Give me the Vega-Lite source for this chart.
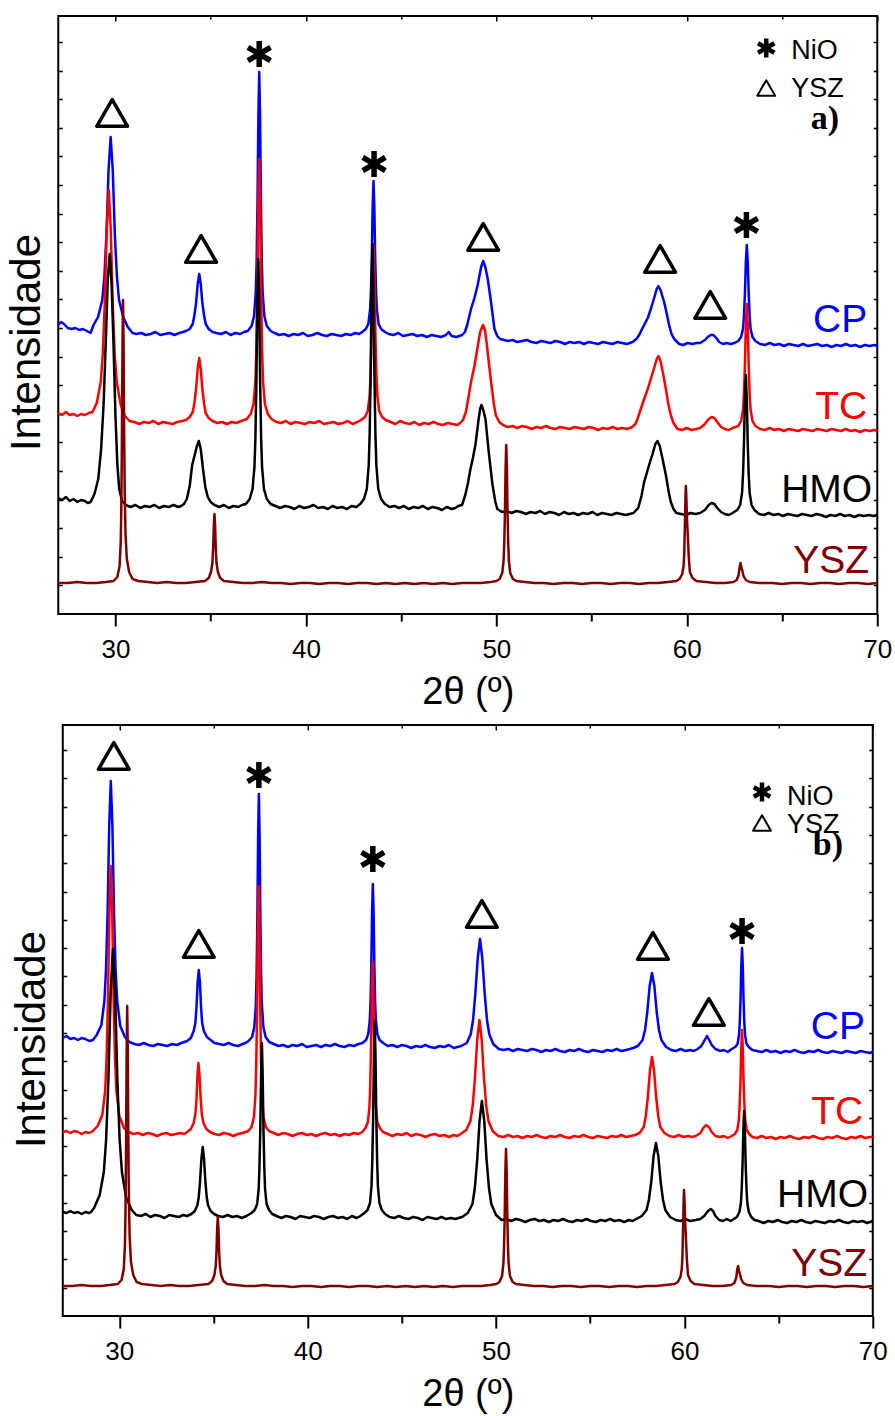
{
"$schema":"https://vega.github.io/schema/vega-lite/v6.json",
"background":"white",
"padding":{"top":14,"left":4,"right":0,"bottom":0},
"config":{"view":{"stroke":"#000","strokeWidth":2},"font":"Liberation Sans"},
"datasets":{
"aCP":[{"t":27.0,"i":289},{"t":27.15,"i":292},{"t":27.3,"i":290},{"t":27.5,"i":286},{"t":27.7,"i":285},{"t":27.9,"i":286},{"t":28.1,"i":284},{"t":28.3,"i":285},{"t":28.5,"i":283},{"t":28.7,"i":281},{"t":28.85,"i":289},{"t":29.09,"i":297},{"t":29.31,"i":314},{"t":29.42,"i":337},{"t":29.53,"i":380},{"t":29.64,"i":444},{"t":29.75,"i":477},{"t":29.86,"i":444},{"t":29.97,"i":380},{"t":30.08,"i":337},{"t":30.19,"i":314},{"t":30.41,"i":297},{"t":30.65,"i":287},{"t":30.9,"i":281},{"t":31.1,"i":280},{"t":31.35,"i":281},{"t":31.6,"i":279},{"t":31.85,"i":280},{"t":32.1,"i":282},{"t":32.35,"i":279},{"t":32.6,"i":280},{"t":32.85,"i":281},{"t":33.1,"i":279},{"t":33.35,"i":281},{"t":33.55,"i":282},{"t":33.7,"i":283},{"t":33.9,"i":285},{"t":34.06,"i":290},{"t":34.14,"i":298},{"t":34.23,"i":310},{"t":34.32,"i":330},{"t":34.4,"i":340},{"t":34.48,"i":330},{"t":34.57,"i":310},{"t":34.66,"i":298},{"t":34.74,"i":290},{"t":34.9,"i":285},{"t":35.1,"i":282},{"t":35.3,"i":281},{"t":35.55,"i":280},{"t":35.8,"i":282},{"t":36.05,"i":279},{"t":36.3,"i":281},{"t":36.55,"i":280},{"t":36.75,"i":282},{"t":36.95,"i":283},{"t":37.15,"i":288},{"t":37.28,"i":298},{"t":37.37,"i":322},{"t":37.415,"i":353},{"t":37.46,"i":411},{"t":37.505,"i":497},{"t":37.55,"i":542},{"t":37.595,"i":497},{"t":37.64,"i":411},{"t":37.685,"i":353},{"t":37.73,"i":322},{"t":37.82,"i":298},{"t":37.95,"i":288},{"t":38.15,"i":283},{"t":38.35,"i":281},{"t":38.6,"i":279},{"t":38.85,"i":280},{"t":39.1,"i":278},{"t":39.35,"i":280},{"t":39.6,"i":279},{"t":39.85,"i":281},{"t":40.1,"i":278},{"t":40.35,"i":279},{"t":40.6,"i":281},{"t":40.85,"i":279},{"t":41.1,"i":278},{"t":41.35,"i":280},{"t":41.6,"i":279},{"t":41.85,"i":278},{"t":42.1,"i":280},{"t":42.35,"i":279},{"t":42.6,"i":281},{"t":42.8,"i":280},{"t":42.95,"i":282},{"t":43.15,"i":285},{"t":43.28,"i":290},{"t":43.37,"i":304},{"t":43.415,"i":322},{"t":43.46,"i":356},{"t":43.505,"i":407},{"t":43.55,"i":433},{"t":43.595,"i":407},{"t":43.64,"i":356},{"t":43.685,"i":322},{"t":43.73,"i":304},{"t":43.82,"i":290},{"t":43.95,"i":285},{"t":44.15,"i":282},{"t":44.35,"i":280},{"t":44.6,"i":279},{"t":44.85,"i":281},{"t":45.1,"i":278},{"t":45.35,"i":279},{"t":45.6,"i":280},{"t":45.85,"i":278},{"t":46.1,"i":279},{"t":46.35,"i":277},{"t":46.6,"i":279},{"t":46.85,"i":278},{"t":47.1,"i":277},{"t":47.35,"i":279},{"t":47.5,"i":282},{"t":47.65,"i":278},{"t":47.9,"i":277},{"t":48.05,"i":278},{"t":48.2,"i":279},{"t":48.35,"i":282},{"t":48.47,"i":289},{"t":48.57,"i":297},{"t":48.67,"i":305},{"t":48.85,"i":316},{"t":49.02,"i":329},{"t":49.2,"i":347},{"t":49.31,"i":353},{"t":49.42,"i":347},{"t":49.55,"i":335},{"t":49.72,"i":312},{"t":49.9,"i":285},{"t":50.05,"i":278},{"t":50.2,"i":275},{"t":50.4,"i":274},{"t":50.6,"i":273},{"t":50.85,"i":274},{"t":51.1,"i":272},{"t":51.35,"i":273},{"t":51.6,"i":274},{"t":51.85,"i":272},{"t":52.1,"i":271},{"t":52.35,"i":273},{"t":52.6,"i":272},{"t":52.85,"i":271},{"t":53.1,"i":273},{"t":53.35,"i":272},{"t":53.6,"i":270},{"t":53.85,"i":272},{"t":54.1,"i":271},{"t":54.35,"i":272},{"t":54.6,"i":270},{"t":54.85,"i":272},{"t":55.1,"i":271},{"t":55.35,"i":270},{"t":55.6,"i":272},{"t":55.85,"i":271},{"t":56.1,"i":270},{"t":56.35,"i":272},{"t":56.6,"i":271},{"t":56.85,"i":270},{"t":57.0,"i":271},{"t":57.15,"i":272},{"t":57.35,"i":275},{"t":57.5,"i":279},{"t":57.65,"i":285},{"t":57.76,"i":289},{"t":57.95,"i":296},{"t":58.11,"i":305},{"t":58.3,"i":317},{"t":58.42,"i":325},{"t":58.51,"i":328},{"t":58.62,"i":324},{"t":58.81,"i":312},{"t":58.95,"i":300},{"t":59.07,"i":289},{"t":59.2,"i":280},{"t":59.34,"i":275},{"t":59.6,"i":270},{"t":59.8,"i":269},{"t":60.05,"i":271},{"t":60.3,"i":270},{"t":60.5,"i":271},{"t":60.7,"i":271},{"t":60.95,"i":274},{"t":61.1,"i":277},{"t":61.25,"i":279},{"t":61.4,"i":279},{"t":61.55,"i":276},{"t":61.7,"i":272},{"t":61.9,"i":270},{"t":62.1,"i":271},{"t":62.3,"i":270},{"t":62.5,"i":271},{"t":62.7,"i":273},{"t":62.85,"i":277},{"t":62.95,"i":285},{"t":63.0,"i":298},{"t":63.05,"i":320},{"t":63.1,"i":352},{"t":63.15,"i":369},{"t":63.2,"i":352},{"t":63.25,"i":320},{"t":63.3,"i":298},{"t":63.35,"i":285},{"t":63.45,"i":277},{"t":63.6,"i":273},{"t":63.85,"i":270},{"t":64.1,"i":269},{"t":64.35,"i":271},{"t":64.6,"i":269},{"t":64.85,"i":270},{"t":65.1,"i":268},{"t":65.35,"i":270},{"t":65.6,"i":269},{"t":65.85,"i":268},{"t":66.1,"i":270},{"t":66.35,"i":268},{"t":66.6,"i":269},{"t":66.85,"i":270},{"t":67.1,"i":268},{"t":67.35,"i":269},{"t":67.6,"i":267},{"t":67.85,"i":269},{"t":68.1,"i":268},{"t":68.35,"i":270},{"t":68.6,"i":268},{"t":68.85,"i":269},{"t":69.1,"i":267},{"t":69.35,"i":269},{"t":69.6,"i":268},{"t":69.85,"i":269},{"t":70.0,"i":268}],
"aTC":[{"t":27.0,"i":201},{"t":27.2,"i":199},{"t":27.4,"i":202},{"t":27.6,"i":199},{"t":27.8,"i":200},{"t":28.0,"i":198},{"t":28.2,"i":200},{"t":28.4,"i":199},{"t":28.6,"i":201},{"t":28.8,"i":202},{"t":29.02,"i":211},{"t":29.23,"i":232},{"t":29.335,"i":259},{"t":29.44,"i":310},{"t":29.545,"i":385},{"t":29.65,"i":424},{"t":29.755,"i":385},{"t":29.86,"i":310},{"t":29.965,"i":259},{"t":30.07,"i":232},{"t":30.28,"i":209},{"t":30.5,"i":198},{"t":30.75,"i":193},{"t":31.0,"i":192},{"t":31.25,"i":190},{"t":31.5,"i":192},{"t":31.75,"i":191},{"t":32.0,"i":193},{"t":32.25,"i":190},{"t":32.5,"i":192},{"t":32.75,"i":191},{"t":33.0,"i":190},{"t":33.25,"i":192},{"t":33.5,"i":193},{"t":33.7,"i":194},{"t":33.9,"i":197},{"t":34.06,"i":202},{"t":34.14,"i":210},{"t":34.23,"i":224},{"t":34.32,"i":245},{"t":34.4,"i":256},{"t":34.48,"i":245},{"t":34.57,"i":224},{"t":34.66,"i":210},{"t":34.74,"i":201},{"t":34.9,"i":196},{"t":35.1,"i":193},{"t":35.35,"i":191},{"t":35.6,"i":192},{"t":35.85,"i":190},{"t":36.1,"i":192},{"t":36.35,"i":191},{"t":36.6,"i":193},{"t":36.9,"i":195},{"t":37.1,"i":200},{"t":37.25,"i":210},{"t":37.35,"i":233},{"t":37.4,"i":265},{"t":37.45,"i":323},{"t":37.5,"i":410},{"t":37.55,"i":455},{"t":37.6,"i":410},{"t":37.65,"i":323},{"t":37.7,"i":265},{"t":37.75,"i":233},{"t":37.85,"i":210},{"t":38.0,"i":200},{"t":38.2,"i":195},{"t":38.45,"i":192},{"t":38.7,"i":191},{"t":38.95,"i":193},{"t":39.2,"i":190},{"t":39.45,"i":192},{"t":39.7,"i":191},{"t":39.95,"i":190},{"t":40.2,"i":192},{"t":40.45,"i":191},{"t":40.7,"i":193},{"t":40.95,"i":190},{"t":41.2,"i":191},{"t":41.45,"i":192},{"t":41.7,"i":190},{"t":41.95,"i":191},{"t":42.2,"i":193},{"t":42.45,"i":190},{"t":42.7,"i":192},{"t":42.9,"i":194},{"t":43.1,"i":197},{"t":43.25,"i":203},{"t":43.35,"i":219},{"t":43.4,"i":241},{"t":43.45,"i":280},{"t":43.5,"i":339},{"t":43.55,"i":369},{"t":43.6,"i":339},{"t":43.65,"i":280},{"t":43.7,"i":241},{"t":43.75,"i":219},{"t":43.85,"i":203},{"t":44.0,"i":197},{"t":44.2,"i":194},{"t":44.45,"i":192},{"t":44.7,"i":190},{"t":44.95,"i":193},{"t":45.2,"i":191},{"t":45.45,"i":190},{"t":45.7,"i":192},{"t":45.95,"i":189},{"t":46.2,"i":191},{"t":46.45,"i":190},{"t":46.7,"i":192},{"t":46.95,"i":190},{"t":47.2,"i":189},{"t":47.45,"i":191},{"t":47.7,"i":190},{"t":47.95,"i":189},{"t":48.1,"i":191},{"t":48.25,"i":194},{"t":48.4,"i":202},{"t":48.55,"i":218},{"t":48.67,"i":232},{"t":48.85,"i":248},{"t":49.0,"i":265},{"t":49.15,"i":282},{"t":49.3,"i":289},{"t":49.4,"i":284},{"t":49.5,"i":270},{"t":49.62,"i":249},{"t":49.75,"i":228},{"t":49.87,"i":210},{"t":49.97,"i":199},{"t":50.15,"i":192},{"t":50.35,"i":189},{"t":50.6,"i":187},{"t":50.85,"i":188},{"t":51.1,"i":186},{"t":51.35,"i":188},{"t":51.6,"i":187},{"t":51.85,"i":185},{"t":52.1,"i":187},{"t":52.35,"i":186},{"t":52.6,"i":188},{"t":52.85,"i":186},{"t":53.1,"i":185},{"t":53.35,"i":187},{"t":53.6,"i":186},{"t":53.85,"i":185},{"t":54.1,"i":187},{"t":54.35,"i":186},{"t":54.6,"i":185},{"t":54.85,"i":187},{"t":55.1,"i":186},{"t":55.35,"i":184},{"t":55.6,"i":186},{"t":55.85,"i":185},{"t":56.1,"i":187},{"t":56.35,"i":185},{"t":56.6,"i":186},{"t":56.85,"i":185},{"t":57.0,"i":186},{"t":57.13,"i":187},{"t":57.3,"i":190},{"t":57.41,"i":195},{"t":57.6,"i":206},{"t":57.76,"i":215},{"t":57.95,"i":225},{"t":58.11,"i":235},{"t":58.3,"i":247},{"t":58.42,"i":255},{"t":58.51,"i":258},{"t":58.62,"i":253},{"t":58.76,"i":240},{"t":58.9,"i":225},{"t":59.03,"i":210},{"t":59.16,"i":199},{"t":59.3,"i":191},{"t":59.51,"i":185},{"t":59.75,"i":184},{"t":60.0,"i":186},{"t":60.25,"i":184},{"t":60.5,"i":185},{"t":60.7,"i":186},{"t":60.95,"i":190},{"t":61.15,"i":195},{"t":61.3,"i":197},{"t":61.45,"i":196},{"t":61.6,"i":192},{"t":61.8,"i":187},{"t":62.0,"i":185},{"t":62.2,"i":184},{"t":62.4,"i":186},{"t":62.55,"i":187},{"t":62.7,"i":188},{"t":62.85,"i":193},{"t":62.95,"i":204},{"t":63.0,"i":220},{"t":63.05,"i":248},{"t":63.1,"i":289},{"t":63.15,"i":310},{"t":63.2,"i":289},{"t":63.25,"i":248},{"t":63.3,"i":220},{"t":63.35,"i":204},{"t":63.45,"i":193},{"t":63.6,"i":188},{"t":63.85,"i":185},{"t":64.1,"i":184},{"t":64.35,"i":186},{"t":64.6,"i":184},{"t":64.85,"i":185},{"t":65.1,"i":183},{"t":65.35,"i":185},{"t":65.6,"i":184},{"t":65.85,"i":183},{"t":66.1,"i":185},{"t":66.35,"i":184},{"t":66.6,"i":183},{"t":66.85,"i":185},{"t":67.1,"i":184},{"t":67.35,"i":183},{"t":67.6,"i":185},{"t":67.85,"i":184},{"t":68.1,"i":183},{"t":68.35,"i":185},{"t":68.6,"i":183},{"t":68.85,"i":184},{"t":69.1,"i":182},{"t":69.35,"i":184},{"t":69.6,"i":183},{"t":69.85,"i":184},{"t":70.0,"i":183}],
"aHMO":[{"t":27.0,"i":116},{"t":27.2,"i":114},{"t":27.4,"i":117},{"t":27.6,"i":113},{"t":27.8,"i":115},{"t":28.0,"i":112},{"t":28.2,"i":114},{"t":28.4,"i":113},{"t":28.55,"i":111},{"t":28.7,"i":112},{"t":28.9,"i":120},{"t":29.1,"i":135},{"t":29.25,"i":165},{"t":29.38,"i":210},{"t":29.5,"i":275},{"t":29.6,"i":335},{"t":29.7,"i":360},{"t":29.8,"i":330},{"t":29.9,"i":270},{"t":30.0,"i":200},{"t":30.1,"i":150},{"t":30.2,"i":125},{"t":30.35,"i":113},{"t":30.55,"i":109},{"t":30.8,"i":107},{"t":31.05,"i":109},{"t":31.3,"i":106},{"t":31.55,"i":108},{"t":31.8,"i":107},{"t":32.05,"i":109},{"t":32.3,"i":106},{"t":32.55,"i":108},{"t":32.8,"i":107},{"t":33.05,"i":109},{"t":33.3,"i":107},{"t":33.45,"i":108},{"t":33.6,"i":110},{"t":33.75,"i":115},{"t":33.9,"i":128},{"t":34.03,"i":149},{"t":34.15,"i":158},{"t":34.28,"i":168},{"t":34.38,"i":173},{"t":34.48,"i":165},{"t":34.6,"i":145},{"t":34.72,"i":127},{"t":34.85,"i":117},{"t":35.0,"i":112},{"t":35.2,"i":109},{"t":35.45,"i":107},{"t":35.7,"i":109},{"t":35.95,"i":106},{"t":36.2,"i":108},{"t":36.45,"i":107},{"t":36.65,"i":109},{"t":36.85,"i":110},{"t":37.05,"i":115},{"t":37.2,"i":125},{"t":37.3,"i":147},{"t":37.35,"i":176},{"t":37.4,"i":231},{"t":37.45,"i":313},{"t":37.5,"i":355},{"t":37.55,"i":313},{"t":37.6,"i":231},{"t":37.65,"i":176},{"t":37.7,"i":147},{"t":37.8,"i":125},{"t":37.95,"i":115},{"t":38.15,"i":110},{"t":38.4,"i":108},{"t":38.65,"i":106},{"t":38.9,"i":108},{"t":39.15,"i":107},{"t":39.4,"i":105},{"t":39.65,"i":108},{"t":39.9,"i":106},{"t":40.15,"i":107},{"t":40.4,"i":109},{"t":40.65,"i":106},{"t":40.9,"i":107},{"t":41.15,"i":105},{"t":41.4,"i":108},{"t":41.65,"i":106},{"t":41.9,"i":107},{"t":42.15,"i":105},{"t":42.4,"i":108},{"t":42.65,"i":107},{"t":42.85,"i":110},{"t":43.05,"i":115},{"t":43.2,"i":125},{"t":43.3,"i":149},{"t":43.35,"i":181},{"t":43.4,"i":239},{"t":43.45,"i":325},{"t":43.5,"i":370},{"t":43.55,"i":325},{"t":43.6,"i":239},{"t":43.65,"i":181},{"t":43.7,"i":149},{"t":43.8,"i":125},{"t":43.95,"i":115},{"t":44.15,"i":110},{"t":44.4,"i":107},{"t":44.65,"i":108},{"t":44.9,"i":106},{"t":45.15,"i":108},{"t":45.4,"i":105},{"t":45.65,"i":107},{"t":45.9,"i":106},{"t":46.15,"i":108},{"t":46.4,"i":105},{"t":46.65,"i":107},{"t":46.9,"i":106},{"t":47.15,"i":104},{"t":47.4,"i":107},{"t":47.65,"i":105},{"t":47.85,"i":106},{"t":48.0,"i":108},{"t":48.2,"i":109},{"t":48.37,"i":119},{"t":48.5,"i":130},{"t":48.63,"i":144},{"t":48.77,"i":156},{"t":48.9,"i":169},{"t":49.0,"i":184},{"t":49.07,"i":195},{"t":49.15,"i":205},{"t":49.22,"i":209},{"t":49.3,"i":205},{"t":49.43,"i":195},{"t":49.6,"i":162},{"t":49.8,"i":129},{"t":49.95,"i":112},{"t":50.05,"i":105},{"t":50.3,"i":102},{"t":50.55,"i":103},{"t":50.8,"i":101},{"t":51.05,"i":103},{"t":51.3,"i":102},{"t":51.55,"i":100},{"t":51.8,"i":102},{"t":52.05,"i":101},{"t":52.3,"i":103},{"t":52.55,"i":100},{"t":52.8,"i":102},{"t":53.05,"i":101},{"t":53.3,"i":99},{"t":53.55,"i":102},{"t":53.8,"i":100},{"t":54.05,"i":101},{"t":54.3,"i":99},{"t":54.55,"i":101},{"t":54.8,"i":100},{"t":55.05,"i":102},{"t":55.3,"i":99},{"t":55.55,"i":101},{"t":55.8,"i":100},{"t":56.05,"i":99},{"t":56.3,"i":101},{"t":56.55,"i":100},{"t":56.8,"i":99},{"t":57.0,"i":100},{"t":57.2,"i":101},{"t":57.45,"i":106},{"t":57.62,"i":118},{"t":57.76,"i":132},{"t":57.9,"i":141},{"t":58.02,"i":149},{"t":58.2,"i":160},{"t":58.35,"i":170},{"t":58.46,"i":173},{"t":58.58,"i":168},{"t":58.75,"i":153},{"t":58.9,"i":139},{"t":59.05,"i":122},{"t":59.16,"i":112},{"t":59.3,"i":105},{"t":59.45,"i":101},{"t":59.7,"i":100},{"t":59.95,"i":99},{"t":60.2,"i":101},{"t":60.45,"i":100},{"t":60.7,"i":101},{"t":60.95,"i":104},{"t":61.15,"i":109},{"t":61.3,"i":111},{"t":61.45,"i":110},{"t":61.6,"i":106},{"t":61.8,"i":102},{"t":62.0,"i":100},{"t":62.2,"i":99},{"t":62.4,"i":101},{"t":62.65,"i":104},{"t":62.8,"i":109},{"t":62.9,"i":121},{"t":62.95,"i":139},{"t":63.0,"i":170},{"t":63.05,"i":215},{"t":63.1,"i":239},{"t":63.15,"i":215},{"t":63.2,"i":170},{"t":63.25,"i":139},{"t":63.3,"i":121},{"t":63.4,"i":109},{"t":63.55,"i":104},{"t":63.8,"i":100},{"t":64.05,"i":99},{"t":64.3,"i":101},{"t":64.55,"i":99},{"t":64.8,"i":100},{"t":65.05,"i":98},{"t":65.3,"i":100},{"t":65.55,"i":99},{"t":65.8,"i":98},{"t":66.05,"i":100},{"t":66.3,"i":99},{"t":66.55,"i":98},{"t":66.8,"i":100},{"t":67.05,"i":99},{"t":67.3,"i":97},{"t":67.55,"i":99},{"t":67.8,"i":98},{"t":68.05,"i":100},{"t":68.3,"i":98},{"t":68.55,"i":99},{"t":68.8,"i":97},{"t":69.05,"i":99},{"t":69.3,"i":98},{"t":69.55,"i":99},{"t":69.8,"i":98},{"t":70.0,"i":99}],
"aYSZ":[{"t":27.0,"i":31},{"t":27.5,"i":31},{"t":28.0,"i":32},{"t":28.5,"i":31},{"t":29.0,"i":31},{"t":29.5,"i":32},{"t":29.9,"i":33},{"t":30.1,"i":37},{"t":30.22,"i":48},{"t":30.28,"i":72},{"t":30.31,"i":105},{"t":30.34,"i":170},{"t":30.37,"i":265},{"t":30.4,"i":314},{"t":30.43,"i":270},{"t":30.46,"i":180},{"t":30.49,"i":120},{"t":30.53,"i":80},{"t":30.6,"i":55},{"t":30.72,"i":42},{"t":30.9,"i":35},{"t":31.2,"i":33},{"t":31.7,"i":32},{"t":32.2,"i":31},{"t":32.7,"i":32},{"t":33.2,"i":31},{"t":33.7,"i":31},{"t":34.2,"i":32},{"t":34.7,"i":33},{"t":34.9,"i":36},{"t":35.02,"i":42},{"t":35.09,"i":51},{"t":35.13,"i":65},{"t":35.165,"i":88},{"t":35.2,"i":100},{"t":35.235,"i":88},{"t":35.27,"i":65},{"t":35.31,"i":51},{"t":35.38,"i":42},{"t":35.5,"i":36},{"t":35.7,"i":33},{"t":36.2,"i":32},{"t":36.7,"i":31},{"t":37.2,"i":31},{"t":37.7,"i":32},{"t":38.2,"i":31},{"t":38.7,"i":31},{"t":39.2,"i":30},{"t":39.7,"i":31},{"t":40.2,"i":31},{"t":40.7,"i":30},{"t":41.2,"i":31},{"t":41.7,"i":31},{"t":42.2,"i":30},{"t":42.7,"i":31},{"t":43.2,"i":31},{"t":43.7,"i":30},{"t":44.2,"i":31},{"t":44.7,"i":30},{"t":45.2,"i":31},{"t":45.7,"i":30},{"t":46.2,"i":31},{"t":46.7,"i":30},{"t":47.2,"i":31},{"t":47.7,"i":30},{"t":48.2,"i":31},{"t":48.7,"i":31},{"t":49.2,"i":31},{"t":49.7,"i":32},{"t":50.0,"i":33},{"t":50.17,"i":35},{"t":50.31,"i":41},{"t":50.38,"i":53},{"t":50.415,"i":70},{"t":50.45,"i":100},{"t":50.485,"i":146},{"t":50.52,"i":169},{"t":50.555,"i":146},{"t":50.59,"i":100},{"t":50.625,"i":70},{"t":50.66,"i":53},{"t":50.73,"i":41},{"t":50.87,"i":35},{"t":51.05,"i":33},{"t":51.5,"i":32},{"t":52.0,"i":31},{"t":52.5,"i":31},{"t":53.0,"i":30},{"t":53.5,"i":31},{"t":54.0,"i":31},{"t":54.5,"i":30},{"t":55.0,"i":31},{"t":55.5,"i":31},{"t":56.0,"i":30},{"t":56.5,"i":31},{"t":57.0,"i":31},{"t":57.5,"i":30},{"t":58.0,"i":31},{"t":58.5,"i":31},{"t":59.0,"i":32},{"t":59.45,"i":33},{"t":59.62,"i":35},{"t":59.76,"i":40},{"t":59.83,"i":48},{"t":59.865,"i":60},{"t":59.9,"i":90},{"t":59.93,"i":118},{"t":59.95,"i":128},{"t":59.98,"i":115},{"t":60.01,"i":95},{"t":60.05,"i":80},{"t":60.1,"i":58},{"t":60.16,"i":42},{"t":60.3,"i":36},{"t":60.5,"i":33},{"t":61.0,"i":32},{"t":61.5,"i":31},{"t":62.0,"i":31},{"t":62.45,"i":32},{"t":62.62,"i":34},{"t":62.72,"i":39},{"t":62.78,"i":48},{"t":62.82,"i":51},{"t":62.87,"i":46},{"t":62.92,"i":43},{"t":62.98,"i":38},{"t":63.1,"i":34},{"t":63.3,"i":32},{"t":63.8,"i":31},{"t":64.5,"i":31},{"t":65.0,"i":30},{"t":65.5,"i":31},{"t":66.0,"i":31},{"t":66.5,"i":30},{"t":67.0,"i":31},{"t":67.5,"i":31},{"t":68.0,"i":30},{"t":68.5,"i":31},{"t":69.0,"i":31},{"t":69.5,"i":30},{"t":70.0,"i":31}],
"bCP":[{"t":27.0,"i":278},{"t":27.2,"i":280},{"t":27.4,"i":277},{"t":27.6,"i":278},{"t":27.8,"i":276},{"t":28.0,"i":278},{"t":28.2,"i":277},{"t":28.4,"i":275},{"t":28.6,"i":276},{"t":28.8,"i":281},{"t":29.05,"i":291},{"t":29.21,"i":315},{"t":29.295,"i":346},{"t":29.38,"i":404},{"t":29.465,"i":490},{"t":29.55,"i":535},{"t":29.635,"i":490},{"t":29.72,"i":404},{"t":29.805,"i":346},{"t":29.89,"i":315},{"t":30.05,"i":290},{"t":30.3,"i":279},{"t":30.55,"i":274},{"t":30.8,"i":272},{"t":31.05,"i":271},{"t":31.3,"i":273},{"t":31.55,"i":271},{"t":31.8,"i":270},{"t":32.05,"i":272},{"t":32.3,"i":271},{"t":32.55,"i":270},{"t":32.8,"i":272},{"t":33.05,"i":271},{"t":33.3,"i":273},{"t":33.45,"i":274},{"t":33.6,"i":275},{"t":33.8,"i":278},{"t":33.95,"i":285},{"t":34.04,"i":293},{"t":34.1,"i":309},{"t":34.16,"i":334},{"t":34.22,"i":346},{"t":34.28,"i":334},{"t":34.34,"i":309},{"t":34.4,"i":293},{"t":34.49,"i":285},{"t":34.65,"i":279},{"t":34.85,"i":276},{"t":35.05,"i":273},{"t":35.3,"i":272},{"t":35.55,"i":271},{"t":35.8,"i":273},{"t":36.05,"i":271},{"t":36.3,"i":270},{"t":36.55,"i":272},{"t":36.7,"i":273},{"t":36.86,"i":275},{"t":37.05,"i":279},{"t":37.17,"i":289},{"t":37.25,"i":311},{"t":37.29,"i":341},{"t":37.33,"i":397},{"t":37.37,"i":479},{"t":37.41,"i":522},{"t":37.45,"i":479},{"t":37.49,"i":397},{"t":37.53,"i":341},{"t":37.57,"i":311},{"t":37.65,"i":289},{"t":37.77,"i":279},{"t":37.96,"i":274},{"t":38.2,"i":272},{"t":38.45,"i":270},{"t":38.7,"i":271},{"t":38.95,"i":269},{"t":39.2,"i":271},{"t":39.45,"i":270},{"t":39.7,"i":272},{"t":39.95,"i":269},{"t":40.2,"i":270},{"t":40.45,"i":271},{"t":40.7,"i":269},{"t":40.95,"i":271},{"t":41.2,"i":270},{"t":41.45,"i":272},{"t":41.7,"i":270},{"t":41.95,"i":269},{"t":42.2,"i":271},{"t":42.45,"i":270},{"t":42.7,"i":272},{"t":42.91,"i":273},{"t":43.1,"i":276},{"t":43.22,"i":282},{"t":43.3,"i":296},{"t":43.34,"i":315},{"t":43.38,"i":351},{"t":43.42,"i":404},{"t":43.46,"i":432},{"t":43.5,"i":404},{"t":43.54,"i":351},{"t":43.58,"i":315},{"t":43.62,"i":296},{"t":43.7,"i":282},{"t":43.82,"i":276},{"t":44.01,"i":273},{"t":44.25,"i":270},{"t":44.5,"i":271},{"t":44.75,"i":269},{"t":45.0,"i":271},{"t":45.25,"i":270},{"t":45.5,"i":268},{"t":45.75,"i":270},{"t":46.0,"i":269},{"t":46.25,"i":271},{"t":46.5,"i":269},{"t":46.75,"i":268},{"t":47.0,"i":270},{"t":47.25,"i":269},{"t":47.5,"i":271},{"t":47.75,"i":268},{"t":47.95,"i":269},{"t":48.15,"i":270},{"t":48.45,"i":273},{"t":48.66,"i":282},{"t":48.78,"i":296},{"t":48.9,"i":322},{"t":49.03,"i":358},{"t":49.15,"i":377},{"t":49.27,"i":358},{"t":49.4,"i":322},{"t":49.52,"i":296},{"t":49.64,"i":282},{"t":49.85,"i":272},{"t":50.15,"i":267},{"t":50.4,"i":266},{"t":50.65,"i":267},{"t":50.9,"i":265},{"t":51.15,"i":267},{"t":51.4,"i":266},{"t":51.65,"i":265},{"t":51.9,"i":267},{"t":52.15,"i":266},{"t":52.4,"i":264},{"t":52.65,"i":266},{"t":52.9,"i":265},{"t":53.15,"i":267},{"t":53.4,"i":265},{"t":53.65,"i":264},{"t":53.9,"i":266},{"t":54.15,"i":265},{"t":54.4,"i":267},{"t":54.65,"i":265},{"t":54.9,"i":264},{"t":55.15,"i":266},{"t":55.4,"i":265},{"t":55.65,"i":264},{"t":55.9,"i":266},{"t":56.15,"i":265},{"t":56.4,"i":267},{"t":56.65,"i":265},{"t":56.9,"i":266},{"t":57.1,"i":267},{"t":57.28,"i":268},{"t":57.53,"i":270},{"t":57.78,"i":276},{"t":57.91,"i":286},{"t":58.03,"i":304},{"t":58.155,"i":330},{"t":58.28,"i":343},{"t":58.405,"i":330},{"t":58.53,"i":304},{"t":58.65,"i":286},{"t":58.78,"i":276},{"t":59.03,"i":269},{"t":59.3,"i":266},{"t":59.55,"i":265},{"t":59.8,"i":267},{"t":60.05,"i":265},{"t":60.3,"i":266},{"t":60.5,"i":265},{"t":60.7,"i":267},{"t":60.9,"i":270},{"t":61.05,"i":275},{"t":61.2,"i":280},{"t":61.32,"i":276},{"t":61.45,"i":271},{"t":61.65,"i":267},{"t":61.9,"i":265},{"t":62.1,"i":266},{"t":62.3,"i":264},{"t":62.51,"i":267},{"t":62.7,"i":269},{"t":62.82,"i":272},{"t":62.9,"i":281},{"t":62.94,"i":294},{"t":62.98,"i":316},{"t":63.02,"i":350},{"t":63.06,"i":368},{"t":63.1,"i":350},{"t":63.14,"i":316},{"t":63.18,"i":294},{"t":63.22,"i":281},{"t":63.3,"i":272},{"t":63.42,"i":269},{"t":63.61,"i":266},{"t":63.85,"i":265},{"t":64.1,"i":264},{"t":64.35,"i":266},{"t":64.6,"i":264},{"t":64.85,"i":265},{"t":65.1,"i":263},{"t":65.35,"i":265},{"t":65.6,"i":264},{"t":65.85,"i":266},{"t":66.1,"i":264},{"t":66.35,"i":263},{"t":66.6,"i":265},{"t":66.85,"i":264},{"t":67.1,"i":266},{"t":67.35,"i":264},{"t":67.6,"i":263},{"t":67.85,"i":265},{"t":68.1,"i":264},{"t":68.35,"i":263},{"t":68.6,"i":265},{"t":68.85,"i":264},{"t":69.1,"i":263},{"t":69.35,"i":265},{"t":69.6,"i":264},{"t":69.85,"i":263},{"t":70.0,"i":264}],
"bTC":[{"t":27.0,"i":184},{"t":27.2,"i":185},{"t":27.4,"i":183},{"t":27.6,"i":185},{"t":27.8,"i":184},{"t":28.0,"i":182},{"t":28.2,"i":184},{"t":28.4,"i":183},{"t":28.6,"i":185},{"t":28.85,"i":190},{"t":29.1,"i":201},{"t":29.25,"i":225},{"t":29.325,"i":257},{"t":29.4,"i":316},{"t":29.475,"i":404},{"t":29.55,"i":450},{"t":29.625,"i":404},{"t":29.7,"i":316},{"t":29.775,"i":257},{"t":29.85,"i":225},{"t":30.0,"i":200},{"t":30.25,"i":188},{"t":30.5,"i":184},{"t":30.75,"i":182},{"t":31.0,"i":183},{"t":31.25,"i":181},{"t":31.5,"i":183},{"t":31.75,"i":182},{"t":32.0,"i":180},{"t":32.25,"i":182},{"t":32.5,"i":183},{"t":32.75,"i":181},{"t":33.0,"i":182},{"t":33.25,"i":183},{"t":33.45,"i":182},{"t":33.6,"i":184},{"t":33.8,"i":187},{"t":33.95,"i":193},{"t":34.04,"i":202},{"t":34.1,"i":217},{"t":34.15,"i":241},{"t":34.2,"i":253},{"t":34.26,"i":241},{"t":34.32,"i":217},{"t":34.38,"i":202},{"t":34.47,"i":193},{"t":34.62,"i":187},{"t":34.82,"i":184},{"t":35.05,"i":182},{"t":35.3,"i":181},{"t":35.55,"i":183},{"t":35.8,"i":182},{"t":36.05,"i":180},{"t":36.3,"i":182},{"t":36.55,"i":183},{"t":36.7,"i":184},{"t":36.85,"i":185},{"t":37.02,"i":189},{"t":37.15,"i":199},{"t":37.23,"i":222},{"t":37.27,"i":251},{"t":37.315,"i":306},{"t":37.36,"i":388},{"t":37.4,"i":430},{"t":37.44,"i":388},{"t":37.485,"i":306},{"t":37.53,"i":251},{"t":37.57,"i":222},{"t":37.65,"i":199},{"t":37.78,"i":189},{"t":37.95,"i":185},{"t":38.2,"i":183},{"t":38.45,"i":181},{"t":38.7,"i":183},{"t":38.95,"i":182},{"t":39.2,"i":180},{"t":39.45,"i":182},{"t":39.7,"i":183},{"t":39.95,"i":181},{"t":40.2,"i":182},{"t":40.45,"i":180},{"t":40.7,"i":182},{"t":40.95,"i":183},{"t":41.2,"i":181},{"t":41.45,"i":182},{"t":41.7,"i":180},{"t":41.95,"i":182},{"t":42.2,"i":181},{"t":42.45,"i":183},{"t":42.7,"i":182},{"t":42.9,"i":184},{"t":43.07,"i":188},{"t":43.2,"i":194},{"t":43.28,"i":209},{"t":43.32,"i":229},{"t":43.365,"i":268},{"t":43.41,"i":325},{"t":43.45,"i":354},{"t":43.49,"i":325},{"t":43.535,"i":268},{"t":43.58,"i":229},{"t":43.62,"i":209},{"t":43.7,"i":194},{"t":43.83,"i":188},{"t":44.0,"i":184},{"t":44.25,"i":182},{"t":44.5,"i":180},{"t":44.75,"i":182},{"t":45.0,"i":181},{"t":45.25,"i":183},{"t":45.5,"i":180},{"t":45.75,"i":182},{"t":46.0,"i":181},{"t":46.25,"i":179},{"t":46.5,"i":181},{"t":46.75,"i":182},{"t":47.0,"i":180},{"t":47.25,"i":181},{"t":47.5,"i":179},{"t":47.75,"i":181},{"t":47.95,"i":180},{"t":48.12,"i":182},{"t":48.42,"i":186},{"t":48.64,"i":195},{"t":48.76,"i":210},{"t":48.88,"i":238},{"t":49.0,"i":276},{"t":49.12,"i":296},{"t":49.24,"i":276},{"t":49.36,"i":238},{"t":49.48,"i":210},{"t":49.6,"i":195},{"t":49.82,"i":185},{"t":50.12,"i":180},{"t":50.4,"i":179},{"t":50.65,"i":181},{"t":50.9,"i":179},{"t":51.15,"i":180},{"t":51.4,"i":178},{"t":51.65,"i":180},{"t":51.9,"i":179},{"t":52.15,"i":181},{"t":52.4,"i":179},{"t":52.65,"i":178},{"t":52.9,"i":180},{"t":53.15,"i":179},{"t":53.4,"i":181},{"t":53.65,"i":179},{"t":53.9,"i":178},{"t":54.15,"i":180},{"t":54.4,"i":179},{"t":54.65,"i":181},{"t":54.9,"i":179},{"t":55.15,"i":178},{"t":55.4,"i":180},{"t":55.65,"i":179},{"t":55.9,"i":178},{"t":56.15,"i":180},{"t":56.4,"i":179},{"t":56.65,"i":181},{"t":56.9,"i":179},{"t":57.15,"i":180},{"t":57.38,"i":181},{"t":57.62,"i":183},{"t":57.84,"i":189},{"t":57.95,"i":200},{"t":58.06,"i":219},{"t":58.17,"i":245},{"t":58.28,"i":259},{"t":58.39,"i":245},{"t":58.5,"i":219},{"t":58.61,"i":200},{"t":58.72,"i":189},{"t":58.94,"i":183},{"t":59.2,"i":180},{"t":59.45,"i":179},{"t":59.7,"i":181},{"t":59.95,"i":179},{"t":60.2,"i":180},{"t":60.4,"i":179},{"t":60.6,"i":180},{"t":60.85,"i":183},{"t":61.0,"i":188},{"t":61.15,"i":191},{"t":61.3,"i":189},{"t":61.45,"i":184},{"t":61.65,"i":180},{"t":61.9,"i":179},{"t":62.1,"i":180},{"t":62.3,"i":178},{"t":62.51,"i":180},{"t":62.68,"i":182},{"t":62.81,"i":186},{"t":62.89,"i":196},{"t":62.93,"i":209},{"t":62.975,"i":232},{"t":63.02,"i":268},{"t":63.06,"i":286},{"t":63.1,"i":268},{"t":63.145,"i":232},{"t":63.19,"i":209},{"t":63.23,"i":196},{"t":63.31,"i":186},{"t":63.44,"i":182},{"t":63.61,"i":179},{"t":63.85,"i":178},{"t":64.1,"i":180},{"t":64.35,"i":178},{"t":64.6,"i":179},{"t":64.85,"i":177},{"t":65.1,"i":179},{"t":65.35,"i":178},{"t":65.6,"i":180},{"t":65.85,"i":178},{"t":66.1,"i":177},{"t":66.35,"i":179},{"t":66.6,"i":178},{"t":66.85,"i":180},{"t":67.1,"i":178},{"t":67.35,"i":177},{"t":67.6,"i":179},{"t":67.85,"i":178},{"t":68.1,"i":180},{"t":68.35,"i":178},{"t":68.6,"i":177},{"t":68.85,"i":179},{"t":69.1,"i":178},{"t":69.35,"i":180},{"t":69.6,"i":178},{"t":69.85,"i":179},{"t":70.0,"i":179}],
"bHMO":[{"t":27.0,"i":104},{"t":27.2,"i":103},{"t":27.4,"i":105},{"t":27.6,"i":103},{"t":27.8,"i":104},{"t":28.0,"i":102},{"t":28.2,"i":104},{"t":28.4,"i":103},{"t":28.5,"i":104},{"t":28.66,"i":108},{"t":28.96,"i":121},{"t":29.18,"i":144},{"t":29.3,"i":176},{"t":29.42,"i":235},{"t":29.54,"i":322},{"t":29.66,"i":367},{"t":29.78,"i":322},{"t":29.9,"i":235},{"t":30.02,"i":176},{"t":30.14,"i":144},{"t":30.36,"i":119},{"t":30.66,"i":106},{"t":30.9,"i":101},{"t":31.15,"i":100},{"t":31.4,"i":102},{"t":31.65,"i":99},{"t":31.9,"i":101},{"t":32.15,"i":100},{"t":32.4,"i":98},{"t":32.65,"i":101},{"t":32.9,"i":100},{"t":33.15,"i":99},{"t":33.4,"i":101},{"t":33.6,"i":100},{"t":33.83,"i":102},{"t":34.01,"i":105},{"t":34.15,"i":111},{"t":34.22,"i":119},{"t":34.29,"i":135},{"t":34.36,"i":157},{"t":34.43,"i":169},{"t":34.5,"i":157},{"t":34.57,"i":135},{"t":34.64,"i":119},{"t":34.71,"i":111},{"t":34.85,"i":105},{"t":35.03,"i":102},{"t":35.25,"i":100},{"t":35.5,"i":99},{"t":35.75,"i":101},{"t":36.0,"i":99},{"t":36.25,"i":100},{"t":36.5,"i":98},{"t":36.75,"i":100},{"t":37.02,"i":103},{"t":37.19,"i":106},{"t":37.32,"i":112},{"t":37.4,"i":127},{"t":37.44,"i":148},{"t":37.485,"i":186},{"t":37.53,"i":243},{"t":37.57,"i":273},{"t":37.61,"i":243},{"t":37.655,"i":186},{"t":37.7,"i":148},{"t":37.74,"i":127},{"t":37.82,"i":112},{"t":37.95,"i":106},{"t":38.12,"i":102},{"t":38.35,"i":100},{"t":38.6,"i":98},{"t":38.85,"i":100},{"t":39.1,"i":99},{"t":39.35,"i":97},{"t":39.6,"i":100},{"t":39.85,"i":99},{"t":40.1,"i":98},{"t":40.35,"i":100},{"t":40.6,"i":99},{"t":40.85,"i":97},{"t":41.1,"i":99},{"t":41.35,"i":100},{"t":41.6,"i":98},{"t":41.85,"i":99},{"t":42.1,"i":97},{"t":42.35,"i":100},{"t":42.6,"i":98},{"t":42.8,"i":100},{"t":43.01,"i":103},{"t":43.18,"i":106},{"t":43.31,"i":113},{"t":43.39,"i":130},{"t":43.43,"i":154},{"t":43.475,"i":197},{"t":43.52,"i":262},{"t":43.56,"i":295},{"t":43.6,"i":262},{"t":43.645,"i":197},{"t":43.69,"i":154},{"t":43.73,"i":130},{"t":43.81,"i":113},{"t":43.94,"i":106},{"t":44.11,"i":102},{"t":44.35,"i":99},{"t":44.6,"i":98},{"t":44.85,"i":100},{"t":45.1,"i":98},{"t":45.35,"i":97},{"t":45.6,"i":99},{"t":45.85,"i":98},{"t":46.1,"i":96},{"t":46.35,"i":99},{"t":46.6,"i":98},{"t":46.85,"i":97},{"t":47.1,"i":99},{"t":47.35,"i":97},{"t":47.6,"i":98},{"t":47.85,"i":97},{"t":48.0,"i":98},{"t":48.2,"i":99},{"t":48.5,"i":103},{"t":48.75,"i":112},{"t":48.875,"i":128},{"t":49.0,"i":156},{"t":49.125,"i":195},{"t":49.25,"i":215},{"t":49.375,"i":195},{"t":49.5,"i":156},{"t":49.625,"i":128},{"t":49.75,"i":112},{"t":50.0,"i":101},{"t":50.3,"i":96},{"t":50.55,"i":97},{"t":50.8,"i":95},{"t":51.05,"i":97},{"t":51.3,"i":96},{"t":51.55,"i":94},{"t":51.8,"i":96},{"t":52.05,"i":97},{"t":52.3,"i":95},{"t":52.55,"i":96},{"t":52.8,"i":94},{"t":53.05,"i":96},{"t":53.3,"i":95},{"t":53.55,"i":97},{"t":53.8,"i":95},{"t":54.05,"i":94},{"t":54.3,"i":96},{"t":54.55,"i":95},{"t":54.8,"i":97},{"t":55.05,"i":95},{"t":55.3,"i":94},{"t":55.55,"i":96},{"t":55.8,"i":95},{"t":56.05,"i":97},{"t":56.3,"i":95},{"t":56.55,"i":96},{"t":56.8,"i":94},{"t":57.05,"i":96},{"t":57.25,"i":95},{"t":57.44,"i":97},{"t":57.74,"i":100},{"t":57.99,"i":106},{"t":58.115,"i":116},{"t":58.24,"i":134},{"t":58.365,"i":160},{"t":58.49,"i":173},{"t":58.615,"i":160},{"t":58.74,"i":134},{"t":58.865,"i":116},{"t":58.99,"i":106},{"t":59.24,"i":99},{"t":59.54,"i":96},{"t":59.8,"i":95},{"t":60.05,"i":97},{"t":60.3,"i":95},{"t":60.6,"i":96},{"t":60.85,"i":97},{"t":61.05,"i":100},{"t":61.25,"i":105},{"t":61.4,"i":107},{"t":61.52,"i":105},{"t":61.65,"i":100},{"t":61.85,"i":96},{"t":62.05,"i":95},{"t":62.25,"i":97},{"t":62.45,"i":95},{"t":62.62,"i":97},{"t":62.79,"i":99},{"t":62.92,"i":104},{"t":63.0,"i":113},{"t":63.04,"i":126},{"t":63.085,"i":150},{"t":63.13,"i":186},{"t":63.17,"i":205},{"t":63.21,"i":186},{"t":63.255,"i":150},{"t":63.3,"i":126},{"t":63.34,"i":113},{"t":63.42,"i":104},{"t":63.55,"i":99},{"t":63.72,"i":96},{"t":63.95,"i":95},{"t":64.2,"i":93},{"t":64.45,"i":95},{"t":64.7,"i":94},{"t":64.95,"i":96},{"t":65.2,"i":94},{"t":65.45,"i":93},{"t":65.7,"i":95},{"t":65.95,"i":94},{"t":66.2,"i":96},{"t":66.45,"i":94},{"t":66.7,"i":93},{"t":66.95,"i":95},{"t":67.2,"i":94},{"t":67.45,"i":93},{"t":67.7,"i":95},{"t":67.95,"i":94},{"t":68.2,"i":96},{"t":68.45,"i":94},{"t":68.7,"i":93},{"t":68.95,"i":95},{"t":69.2,"i":94},{"t":69.45,"i":95},{"t":69.7,"i":93},{"t":70.0,"i":95}],
"bYSZ":[{"t":27.0,"i":30},{"t":27.5,"i":30},{"t":28.0,"i":31},{"t":28.5,"i":30},{"t":29.0,"i":30},{"t":29.5,"i":31},{"t":29.92,"i":32},{"t":30.12,"i":36},{"t":30.24,"i":47},{"t":30.3,"i":71},{"t":30.33,"i":104},{"t":30.36,"i":168},{"t":30.39,"i":262},{"t":30.42,"i":310},{"t":30.45,"i":266},{"t":30.48,"i":178},{"t":30.51,"i":118},{"t":30.55,"i":79},{"t":30.62,"i":54},{"t":30.74,"i":41},{"t":30.92,"i":34},{"t":31.2,"i":32},{"t":31.7,"i":31},{"t":32.2,"i":30},{"t":32.7,"i":31},{"t":33.2,"i":30},{"t":33.7,"i":30},{"t":34.2,"i":31},{"t":34.73,"i":32},{"t":34.93,"i":35},{"t":35.05,"i":41},{"t":35.12,"i":50},{"t":35.16,"i":64},{"t":35.195,"i":87},{"t":35.23,"i":99},{"t":35.265,"i":87},{"t":35.3,"i":64},{"t":35.34,"i":50},{"t":35.41,"i":41},{"t":35.53,"i":35},{"t":35.73,"i":32},{"t":36.2,"i":31},{"t":36.7,"i":30},{"t":37.2,"i":30},{"t":37.7,"i":31},{"t":38.2,"i":30},{"t":38.7,"i":30},{"t":39.2,"i":29},{"t":39.7,"i":30},{"t":40.2,"i":30},{"t":40.7,"i":29},{"t":41.2,"i":30},{"t":41.7,"i":30},{"t":42.2,"i":29},{"t":42.7,"i":30},{"t":43.2,"i":30},{"t":43.7,"i":29},{"t":44.2,"i":30},{"t":44.7,"i":29},{"t":45.2,"i":30},{"t":45.7,"i":29},{"t":46.2,"i":30},{"t":46.7,"i":29},{"t":47.2,"i":30},{"t":47.7,"i":29},{"t":48.2,"i":30},{"t":48.7,"i":30},{"t":49.2,"i":30},{"t":49.7,"i":31},{"t":50.01,"i":32},{"t":50.18,"i":34},{"t":50.32,"i":40},{"t":50.39,"i":52},{"t":50.425,"i":69},{"t":50.46,"i":99},{"t":50.495,"i":144},{"t":50.53,"i":167},{"t":50.565,"i":144},{"t":50.6,"i":99},{"t":50.635,"i":69},{"t":50.67,"i":52},{"t":50.74,"i":40},{"t":50.88,"i":34},{"t":51.06,"i":32},{"t":51.5,"i":31},{"t":52.0,"i":30},{"t":52.5,"i":30},{"t":53.0,"i":29},{"t":53.5,"i":30},{"t":54.0,"i":30},{"t":54.5,"i":29},{"t":55.0,"i":30},{"t":55.5,"i":30},{"t":56.0,"i":29},{"t":56.5,"i":30},{"t":57.0,"i":30},{"t":57.5,"i":29},{"t":58.0,"i":30},{"t":58.5,"i":30},{"t":59.0,"i":31},{"t":59.48,"i":32},{"t":59.65,"i":34},{"t":59.79,"i":39},{"t":59.86,"i":47},{"t":59.895,"i":59},{"t":59.93,"i":88},{"t":59.96,"i":116},{"t":59.98,"i":126},{"t":60.01,"i":113},{"t":60.04,"i":94},{"t":60.08,"i":79},{"t":60.13,"i":57},{"t":60.19,"i":41},{"t":60.33,"i":35},{"t":60.53,"i":32},{"t":61.0,"i":31},{"t":61.5,"i":30},{"t":62.0,"i":30},{"t":62.48,"i":31},{"t":62.65,"i":33},{"t":62.75,"i":38},{"t":62.81,"i":47},{"t":62.85,"i":50},{"t":62.9,"i":45},{"t":62.95,"i":42},{"t":63.01,"i":37},{"t":63.13,"i":33},{"t":63.33,"i":31},{"t":63.8,"i":30},{"t":64.5,"i":30},{"t":65.0,"i":29},{"t":65.5,"i":30},{"t":66.0,"i":30},{"t":66.5,"i":29},{"t":67.0,"i":30},{"t":67.5,"i":30},{"t":68.0,"i":29},{"t":68.5,"i":30},{"t":69.0,"i":30},{"t":69.5,"i":29},{"t":70.0,"i":30}],
"la":[{"txt":"CP","t":69.47,"i":282},{"txt":"TC","t":69.47,"i":195},{"txt":"HMO","t":69.73,"i":112},{"txt":"YSZ","t":69.57,"i":41}],
"lb":[{"txt":"CP","t":69.59,"i":277},{"txt":"TC","t":69.49,"i":192},{"txt":"HMO","t":69.75,"i":109},{"txt":"YSZ","t":69.7,"i":40}],
"ma":[{"k":"NiO","t":37.55,"i":560},{"k":"NiO","t":43.58,"i":450},{"k":"NiO","t":63.13,"i":389},{"k":"YSZ","t":29.83,"i":501},{"k":"YSZ","t":34.5,"i":365},{"k":"YSZ","t":49.31,"i":377},{"k":"YSZ","t":58.6,"i":355},{"k":"YSZ","t":61.23,"i":309}],
"mb":[{"k":"NiO","t":37.41,"i":541},{"k":"NiO","t":43.46,"i":457},{"k":"NiO","t":63.06,"i":385},{"k":"YSZ","t":29.71,"i":560},{"k":"YSZ","t":34.22,"i":372},{"k":"YSZ","t":49.25,"i":402},{"k":"YSZ","t":58.33,"i":370},{"k":"YSZ","t":61.3,"i":304}],
"ga":[{"k":"NiO","t":64.17,"i":566},{"k":"YSZ","t":64.17,"i":526}],
"gb":[{"k":"NiO","t":64.12,"i":524},{"k":"YSZ","t":64.12,"i":493}],
"ta":[{"txt":"NiO","t":65.48,"i":555},{"txt":"YSZ","t":65.48,"i":517}],
"tb":[{"txt":"NiO","t":65.45,"i":511},{"txt":"YSZ","t":65.45,"i":483}],
"pa":[{"txt":"a)","t":68.0,"i":485}],
"pb":[{"txt":"b)","t":68.42,"i":461}]
},
"concat":[
{
"width":819,"height":598,
"resolve":{"axis":{"x":"independent","y":"independent"}},
"layer":[
{"data":{"name":"aCP"},"mark":{"type":"line","color":"#0000ff","strokeWidth":2.5,"strokeJoin":"round"},
"encoding":{"x":{"field":"t","type":"quantitative","scale":{"domain":[27,70],"nice":false,"zero":false},"axis":{"orient":"bottom","values":[30,35,40,45,50,55,60,65,70],"labelExpr":"datum.value % 10 === 0 ? datum.label : ''","tickSize":{"condition":{"test":"datum.value % 10 === 0","value":12},"value":7},"tickWidth":2,"tickColor":"#000","domain":false,"grid":false,"labelFont":"Liberation Sans","labelFontSize":26,"labelColor":"#000","labelPadding":10,"labelOverlap":false,"labelBound":false,"labelFlush":false,"title":"2θ (º)","titleFont":"Liberation Sans","titleFontSize":38,"titleFontWeight":"normal","titleColor":"#000","titlePadding":11}},
"y":{"field":"i","type":"quantitative","scale":{"domain":[0,598],"nice":false,"zero":false},"axis":{"orient":"left","values":[28.6,57.2,85.8,114.4,143,171.6,200.2,228.8,257.4,286,314.6,343.2,371.8,400.4,429,457.6,486.2,514.8,543.4,572],"labels":false,"tickSize":-4,"tickWidth":1.5,"tickColor":"#000","domain":false,"grid":false,"title":"Intensidade","titleFont":"Liberation Sans","titleFontSize":42,"titleFontWeight":"normal","titleColor":"#000","titlePadding":9,"titleY":326}}}},
{"data":{"name":"aTC"},"mark":{"type":"line","color":"#ff0000","strokeWidth":2.5,"strokeJoin":"round"},
"encoding":{"x":{"field":"t","type":"quantitative","scale":{"domain":[27,70],"nice":false,"zero":false},"axis":{"orient":"top","values":[30,35,40,45,50,55,60,65,70],"labels":false,"tickSize":{"condition":{"test":"datum.value % 10 === 0","value":-5},"value":-3},"tickWidth":1.5,"tickColor":"#000","domain":false,"grid":false,"title":null}},
"y":{"field":"i","type":"quantitative","scale":{"domain":[0,598],"nice":false,"zero":false},"axis":{"orient":"right","values":[28.6,57.2,85.8,114.4,143,171.6,200.2,228.8,257.4,286,314.6,343.2,371.8,400.4,429,457.6,486.2,514.8,543.4,572],"labels":false,"tickSize":-4,"tickWidth":1.5,"tickColor":"#000","domain":false,"grid":false,"title":null}}}},
{"data":{"name":"aHMO"},"mark":{"type":"line","color":"#000000","strokeWidth":2.5,"strokeJoin":"round"},
"encoding":{"x":{"field":"t","type":"quantitative","scale":{"domain":[27,70],"nice":false,"zero":false},"axis":null},"y":{"field":"i","type":"quantitative","scale":{"domain":[0,598],"nice":false,"zero":false},"axis":null}}},
{"data":{"name":"aYSZ"},"mark":{"type":"line","color":"#800000","strokeWidth":2.5,"strokeJoin":"round"},
"encoding":{"x":{"field":"t","type":"quantitative","scale":{"domain":[27,70],"nice":false,"zero":false},"axis":null},"y":{"field":"i","type":"quantitative","scale":{"domain":[0,598],"nice":false,"zero":false},"axis":null}}},
{"data":{"name":"la"},"mark":{"type":"text","font":"Liberation Sans","fontSize":39,"align":"right","baseline":"alphabetic"},
"encoding":{"x":{"field":"t","type":"quantitative","scale":{"domain":[27,70],"nice":false,"zero":false},"axis":null},"y":{"field":"i","type":"quantitative","scale":{"domain":[0,598],"nice":false,"zero":false},"axis":null},"text":{"field":"txt"},"color":{"field":"txt","type":"nominal","scale":{"domain":["CP","TC","HMO","YSZ"],"range":["#0000ff","#ff0000","#000000","#800000"]},"legend":null}}},
{"data":{"name":"ma"},"transform":[{"filter":"datum.k === 'NiO'"}],"mark":{"type":"point","shape":"M0,-1L0,1M-0.866,-0.5L0.866,0.5M-0.866,0.5L0.866,-0.5","size":680,"filled":false,"color":"#000","strokeWidth":5.5,"opacity":1},
"encoding":{"x":{"field":"t","type":"quantitative","scale":{"domain":[27,70],"nice":false,"zero":false},"axis":null},"y":{"field":"i","type":"quantitative","scale":{"domain":[0,598],"nice":false,"zero":false},"axis":null}}},
{"data":{"name":"ma"},"transform":[{"filter":"datum.k === 'YSZ'"}],"mark":{"type":"point","shape":"triangle-up","size":950,"filled":false,"color":"#000","strokeWidth":3.5,"strokeJoin":"round","opacity":1},
"encoding":{"x":{"field":"t","type":"quantitative","scale":{"domain":[27,70],"nice":false,"zero":false},"axis":null},"y":{"field":"i","type":"quantitative","scale":{"domain":[0,598],"nice":false,"zero":false},"axis":null}}},
{"data":{"name":"ga"},"transform":[{"filter":"datum.k === 'NiO'"}],"mark":{"type":"point","shape":"M0,-1L0,1M-0.866,-0.5L0.866,0.5M-0.866,0.5L0.866,-0.5","size":360,"filled":false,"color":"#000","strokeWidth":4.5,"opacity":1},
"encoding":{"x":{"field":"t","type":"quantitative","scale":{"domain":[27,70],"nice":false,"zero":false},"axis":null},"y":{"field":"i","type":"quantitative","scale":{"domain":[0,598],"nice":false,"zero":false},"axis":null}}},
{"data":{"name":"ga"},"transform":[{"filter":"datum.k === 'YSZ'"}],"mark":{"type":"point","shape":"triangle-up","size":320,"filled":false,"color":"#000","strokeWidth":2,"strokeJoin":"round","opacity":1},
"encoding":{"x":{"field":"t","type":"quantitative","scale":{"domain":[27,70],"nice":false,"zero":false},"axis":null},"y":{"field":"i","type":"quantitative","scale":{"domain":[0,598],"nice":false,"zero":false},"axis":null}}},
{"data":{"name":"ta"},"mark":{"type":"text","font":"Liberation Sans","fontSize":27,"align":"left","baseline":"alphabetic","color":"#000"},
"encoding":{"x":{"field":"t","type":"quantitative","scale":{"domain":[27,70],"nice":false,"zero":false},"axis":null},"y":{"field":"i","type":"quantitative","scale":{"domain":[0,598],"nice":false,"zero":false},"axis":null},"text":{"field":"txt"}}},
{"data":{"name":"pa"},"mark":{"type":"text","font":"Liberation Serif","fontSize":34,"fontWeight":"bold","align":"right","baseline":"alphabetic","color":"#000"},
"encoding":{"x":{"field":"t","type":"quantitative","scale":{"domain":[27,70],"nice":false,"zero":false},"axis":null},"y":{"field":"i","type":"quantitative","scale":{"domain":[0,598],"nice":false,"zero":false},"axis":null},"text":{"field":"txt"}}}
]
},
{
"width":810,"height":591,
"resolve":{"axis":{"x":"independent","y":"independent"}},
"layer":[
{"data":{"name":"bCP"},"mark":{"type":"line","color":"#0000ff","strokeWidth":2.5,"strokeJoin":"round"},
"encoding":{"x":{"field":"t","type":"quantitative","scale":{"domain":[27,70],"nice":false,"zero":false},"axis":{"orient":"bottom","values":[30,35,40,45,50,55,60,65,70],"labelExpr":"datum.value % 10 === 0 ? datum.label : ''","tickSize":{"condition":{"test":"datum.value % 10 === 0","value":12},"value":7},"tickWidth":2,"tickColor":"#000","domain":false,"grid":false,"labelFont":"Liberation Sans","labelFontSize":26,"labelColor":"#000","labelPadding":10,"labelOverlap":false,"labelBound":false,"labelFlush":false,"title":"2θ (º)","titleFont":"Liberation Sans","titleFontSize":38,"titleFontWeight":"normal","titleColor":"#000","titlePadding":11}},
"y":{"field":"i","type":"quantitative","scale":{"domain":[0,591],"nice":false,"zero":false},"axis":{"orient":"left","values":[28.3,56.6,84.9,113.2,141.5,169.8,198.1,226.4,254.7,283,311.3,339.6,367.9,396.2,424.5,452.8,481.1,509.4,537.7,566],"labels":false,"tickSize":-4,"tickWidth":1.5,"tickColor":"#000","domain":false,"grid":false,"title":"Intensidade","titleFont":"Liberation Sans","titleFontSize":42,"titleFontWeight":"normal","titleColor":"#000","titlePadding":9,"titleY":314}}}},
{"data":{"name":"bTC"},"mark":{"type":"line","color":"#ff0000","strokeWidth":2.5,"strokeJoin":"round"},
"encoding":{"x":{"field":"t","type":"quantitative","scale":{"domain":[27,70],"nice":false,"zero":false},"axis":{"orient":"top","values":[30,35,40,45,50,55,60,65,70],"labels":false,"tickSize":{"condition":{"test":"datum.value % 10 === 0","value":-5},"value":-3},"tickWidth":1.5,"tickColor":"#000","domain":false,"grid":false,"title":null}},
"y":{"field":"i","type":"quantitative","scale":{"domain":[0,591],"nice":false,"zero":false},"axis":{"orient":"right","values":[28.3,56.6,84.9,113.2,141.5,169.8,198.1,226.4,254.7,283,311.3,339.6,367.9,396.2,424.5,452.8,481.1,509.4,537.7,566],"labels":false,"tickSize":-4,"tickWidth":1.5,"tickColor":"#000","domain":false,"grid":false,"title":null}}}},
{"data":{"name":"bHMO"},"mark":{"type":"line","color":"#000000","strokeWidth":2.5,"strokeJoin":"round"},
"encoding":{"x":{"field":"t","type":"quantitative","scale":{"domain":[27,70],"nice":false,"zero":false},"axis":null},"y":{"field":"i","type":"quantitative","scale":{"domain":[0,591],"nice":false,"zero":false},"axis":null}}},
{"data":{"name":"bYSZ"},"mark":{"type":"line","color":"#800000","strokeWidth":2.5,"strokeJoin":"round"},
"encoding":{"x":{"field":"t","type":"quantitative","scale":{"domain":[27,70],"nice":false,"zero":false},"axis":null},"y":{"field":"i","type":"quantitative","scale":{"domain":[0,591],"nice":false,"zero":false},"axis":null}}},
{"data":{"name":"lb"},"mark":{"type":"text","font":"Liberation Sans","fontSize":39,"align":"right","baseline":"alphabetic"},
"encoding":{"x":{"field":"t","type":"quantitative","scale":{"domain":[27,70],"nice":false,"zero":false},"axis":null},"y":{"field":"i","type":"quantitative","scale":{"domain":[0,591],"nice":false,"zero":false},"axis":null},"text":{"field":"txt"},"color":{"field":"txt","type":"nominal","scale":{"domain":["CP","TC","HMO","YSZ"],"range":["#0000ff","#ff0000","#000000","#800000"]},"legend":null}}},
{"data":{"name":"mb"},"transform":[{"filter":"datum.k === 'NiO'"}],"mark":{"type":"point","shape":"M0,-1L0,1M-0.866,-0.5L0.866,0.5M-0.866,0.5L0.866,-0.5","size":680,"filled":false,"color":"#000","strokeWidth":5.5,"opacity":1},
"encoding":{"x":{"field":"t","type":"quantitative","scale":{"domain":[27,70],"nice":false,"zero":false},"axis":null},"y":{"field":"i","type":"quantitative","scale":{"domain":[0,591],"nice":false,"zero":false},"axis":null}}},
{"data":{"name":"mb"},"transform":[{"filter":"datum.k === 'YSZ'"}],"mark":{"type":"point","shape":"triangle-up","size":950,"filled":false,"color":"#000","strokeWidth":3.5,"strokeJoin":"round","opacity":1},
"encoding":{"x":{"field":"t","type":"quantitative","scale":{"domain":[27,70],"nice":false,"zero":false},"axis":null},"y":{"field":"i","type":"quantitative","scale":{"domain":[0,591],"nice":false,"zero":false},"axis":null}}},
{"data":{"name":"gb"},"transform":[{"filter":"datum.k === 'NiO'"}],"mark":{"type":"point","shape":"M0,-1L0,1M-0.866,-0.5L0.866,0.5M-0.866,0.5L0.866,-0.5","size":360,"filled":false,"color":"#000","strokeWidth":4.5,"opacity":1},
"encoding":{"x":{"field":"t","type":"quantitative","scale":{"domain":[27,70],"nice":false,"zero":false},"axis":null},"y":{"field":"i","type":"quantitative","scale":{"domain":[0,591],"nice":false,"zero":false},"axis":null}}},
{"data":{"name":"gb"},"transform":[{"filter":"datum.k === 'YSZ'"}],"mark":{"type":"point","shape":"triangle-up","size":320,"filled":false,"color":"#000","strokeWidth":2,"strokeJoin":"round","opacity":1},
"encoding":{"x":{"field":"t","type":"quantitative","scale":{"domain":[27,70],"nice":false,"zero":false},"axis":null},"y":{"field":"i","type":"quantitative","scale":{"domain":[0,591],"nice":false,"zero":false},"axis":null}}},
{"data":{"name":"tb"},"mark":{"type":"text","font":"Liberation Sans","fontSize":27,"align":"left","baseline":"alphabetic","color":"#000"},
"encoding":{"x":{"field":"t","type":"quantitative","scale":{"domain":[27,70],"nice":false,"zero":false},"axis":null},"y":{"field":"i","type":"quantitative","scale":{"domain":[0,591],"nice":false,"zero":false},"axis":null},"text":{"field":"txt"}}},
{"data":{"name":"pb"},"mark":{"type":"text","font":"Liberation Serif","fontSize":34,"fontWeight":"bold","align":"right","baseline":"alphabetic","color":"#000"},
"encoding":{"x":{"field":"t","type":"quantitative","scale":{"domain":[27,70],"nice":false,"zero":false},"axis":null},"y":{"field":"i","type":"quantitative","scale":{"domain":[0,591],"nice":false,"zero":false},"axis":null},"text":{"field":"txt"}}}
]
}
],
"columns":1,
"spacing":11,
"center":true
}
